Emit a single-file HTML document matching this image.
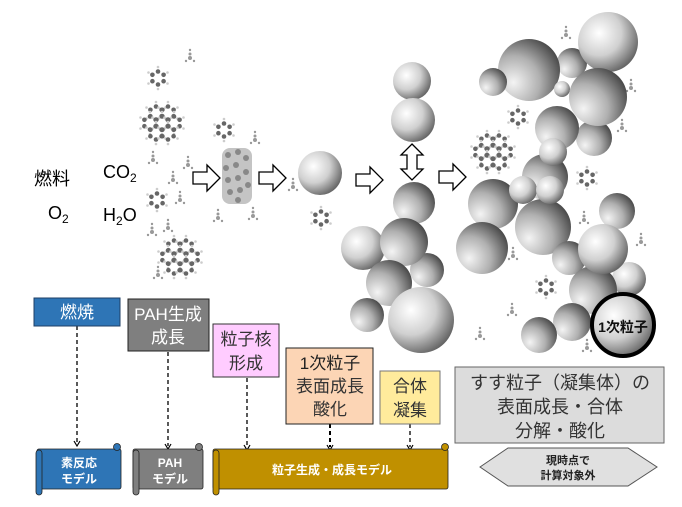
<!DOCTYPE html>
<html><head><meta charset="utf-8">
<style>
html,body{margin:0;padding:0;background:#fff;}
body{width:682px;height:507px;overflow:hidden;position:relative;font-family:"Liberation Sans","Noto Sans CJK JP",sans-serif;}
svg{position:absolute;left:0;top:0;}
</style></head><body>
<svg width="682" height="507" viewBox="0 0 682 507" xmlns="http://www.w3.org/2000/svg" font-family="Liberation Sans, Noto Sans CJK JP, sans-serif">
<defs>
<radialGradient id="sp" cx="0.35" cy="0.35" r="0.75">
<stop offset="0" stop-color="#ffffff"/><stop offset="0.5" stop-color="#d0d0d0"/><stop offset="1" stop-color="#555"/>
</radialGradient>
<radialGradient id="sp2" cx="0.25" cy="0.7" r="0.85">
<stop offset="0" stop-color="#f4f4f4"/><stop offset="0.5" stop-color="#b0b0b0"/><stop offset="1" stop-color="#404040"/>
</radialGradient>
<g id="bz">
<g fill="#ccc"><circle cx="0" cy="-11" r="1.3"/><circle cx="9.5" cy="-5.5" r="1.3"/><circle cx="9.5" cy="5.5" r="1.3"/><circle cx="0" cy="11" r="1.3"/><circle cx="-9.5" cy="5.5" r="1.3"/><circle cx="-9.5" cy="-5.5" r="1.3"/></g>
<g fill="#666"><circle cx="0" cy="-6.5" r="2.3"/><circle cx="5.6" cy="-3.2" r="2.3"/><circle cx="5.6" cy="3.2" r="2.3"/><circle cx="0" cy="6.5" r="2.3"/><circle cx="-5.6" cy="3.2" r="2.3"/><circle cx="-5.6" cy="-3.2" r="2.3"/></g>
</g>
<g id="pah">
<use href="#bz" x="-6" y="-10"/><use href="#bz" x="6" y="-10"/><use href="#bz" x="-12" y="0"/><use href="#bz" x="0" y="0"/><use href="#bz" x="12" y="0"/><use href="#bz" x="-6" y="10"/><use href="#bz" x="6" y="10"/>
</g>
<g id="me" fill="#999"><circle cx="0" cy="-8" r="1.2"/><circle cx="0" cy="-4" r="1.5"/><circle cx="0" cy="0" r="2"/><circle cx="-4" cy="3" r="1.2"/><circle cx="4" cy="3" r="1.2"/></g>
<path id="ar" d="M0,-6 H14 V-13 L27,0 L14,13 V6 H0 Z" fill="#fff" stroke="#000" stroke-width="1.3"/>
</defs>

<text x="34" y="185" font-size="18">燃料</text>
<text x="48" y="219" font-size="18">O<tspan font-size="12" dy="4">2</tspan></text>
<text x="103" y="178" font-size="18">CO<tspan font-size="12" dy="4">2</tspan></text>
<text x="103" y="221" font-size="18">H<tspan font-size="12" dy="4">2</tspan><tspan dy="-4">O</tspan></text>

<use href="#bz" x="158" y="78"/>
<use href="#pah" x="162" y="123"/>
<use href="#bz" x="157" y="200"/>
<use href="#pah" x="180" y="257"/>
<use href="#bz" x="224" y="130"/>
<use href="#bz" x="321" y="218"/>
<use href="#bz" x="518" y="117"/>
<use href="#pah" x="493" y="152"/>
<use href="#bz" x="587" y="178"/>
<use href="#bz" x="546" y="287"/>
<use href="#me" x="190" y="58"/><use href="#me" x="153" y="160"/><use href="#me" x="173" y="180"/><use href="#me" x="188" y="165"/>
<use href="#me" x="180" y="200"/><use href="#me" x="168" y="228"/><use href="#me" x="152" y="232"/><use href="#me" x="158" y="275"/>
<use href="#me" x="255" y="140"/><use href="#me" x="218" y="218"/><use href="#me" x="253" y="216"/><use href="#me" x="293" y="187"/>
<use href="#me" x="566" y="35"/><use href="#me" x="631" y="88"/><use href="#me" x="622" y="128"/><use href="#me" x="584" y="220"/>
<use href="#me" x="641" y="242"/><use href="#me" x="513" y="256"/><use href="#me" x="512" y="312"/><use href="#me" x="587" y="348"/><use href="#me" x="480" y="336"/>
<g fill="#888">
<rect x="222" y="148" width="30" height="56" rx="8" fill="#c4c4c4"/>
<circle cx="228" cy="155" r="3"/><circle cx="238" cy="152" r="3"/><circle cx="246" cy="158" r="3"/><circle cx="226" cy="168" r="3"/><circle cx="236" cy="165" r="3"/><circle cx="246" cy="172" r="3"/><circle cx="228" cy="180" r="3"/><circle cx="238" cy="178" r="3"/><circle cx="248" cy="185" r="3"/><circle cx="230" cy="192" r="3"/><circle cx="240" cy="190" r="3"/><circle cx="238" cy="200" r="3"/>
</g>

<use href="#ar" x="193" y="178"/>
<use href="#ar" x="259" y="178"/>
<use href="#ar" x="356" y="180"/>
<use href="#ar" x="439" y="177"/>
<path d="M412,144 L423,155 H417 V169 H423 L412,180 L401,169 H407 V155 H401 Z" fill="#fff" stroke="#000" stroke-width="1.3"/>

<g fill="url(#sp)">
<circle cx="320" cy="173" r="22"/>
<circle cx="412" cy="81" r="19"/>
<circle cx="413" cy="120" r="22"/>
<circle cx="414" cy="203" r="21" fill="url(#sp2)"/>
<circle cx="363" cy="248" r="22"/>
<circle cx="427" cy="270" r="17" fill="url(#sp2)"/>
<circle cx="404" cy="242" r="24" fill="url(#sp2)"/>
<circle cx="389" cy="283" r="23" fill="url(#sp2)"/>
<circle cx="367" cy="315" r="17" fill="url(#sp2)"/>
<circle cx="421" cy="320" r="33"/>
<circle cx="572" cy="63" r="15" fill="url(#sp2)"/>
<circle cx="529" cy="70" r="31" fill="url(#sp2)"/>
<circle cx="493" cy="82" r="14" fill="url(#sp2)"/>
<circle cx="608" cy="42" r="30"/>
<circle cx="562" cy="89" r="8"/>
<circle cx="594" cy="138" r="18" fill="url(#sp2)"/>
<circle cx="557" cy="128" r="22" fill="url(#sp2)"/>
<circle cx="598" cy="97" r="29" fill="url(#sp2)"/>
<circle cx="545" cy="177" r="23" fill="url(#sp2)"/>
<circle cx="553" cy="152" r="14"/>
<circle cx="493" cy="204" r="25" fill="url(#sp2)"/>
<circle cx="543" cy="227" r="28" fill="url(#sp2)"/>
<circle cx="523" cy="190" r="14"/>
<circle cx="550" cy="190" r="14"/>
<circle cx="482" cy="248" r="26" fill="url(#sp2)"/>
<circle cx="617" cy="211" r="18" fill="url(#sp2)"/>
<circle cx="569" cy="258" r="17" fill="url(#sp2)"/>
<circle cx="629" cy="279" r="17"/>
<circle cx="593" cy="290" r="24" fill="url(#sp2)"/>
<circle cx="603" cy="249" r="25"/>
<circle cx="572" cy="322" r="19" fill="url(#sp2)"/>
<circle cx="539" cy="335" r="18" fill="url(#sp2)"/>
<circle cx="623" cy="325" r="31" stroke="#000" stroke-width="4"/>
</g>
<text x="623" y="332" font-size="14" font-weight="bold" text-anchor="middle" fill="#111">1次粒子</text>

<g stroke="#000" stroke-width="1.3" stroke-dasharray="4,3" fill="none">
<line x1="77" y1="326" x2="77" y2="443"/>
<line x1="168" y1="352" x2="168" y2="446"/>
<line x1="247" y1="378" x2="247" y2="447"/>
<line x1="330" y1="424" x2="330" y2="447" stroke-width="2"/>
<line x1="410" y1="424" x2="410" y2="447"/>
</g>
<g stroke="#000" stroke-width="1.2" fill="none">
<path d="M74,441 L77,446 L80,441"/><path d="M165,444 L168,449 L171,444"/><path d="M244,445 L247,450 L250,445"/><path d="M327,445 L330,450 L333,445"/><path d="M407,445 L410,450 L413,445"/>
</g>

<rect x="34" y="298" width="86" height="28" fill="#2e75b6" stroke="#1f3f66" stroke-width="1"/>
<text x="77" y="318" font-size="17" fill="#fff" text-anchor="middle">燃焼</text>
<rect x="128" y="299" width="81" height="52" fill="#7f7f7f" stroke="#222" stroke-width="1"/>
<text x="168" y="320" font-size="17" fill="#fff" text-anchor="middle">PAH生成</text>
<text x="168" y="343" font-size="17" fill="#fff" text-anchor="middle">成長</text>
<rect x="213" y="324" width="66" height="53" fill="#ffccff" stroke="#333" stroke-width="1"/>
<text x="246" y="345" font-size="17" fill="#333" text-anchor="middle">粒子核</text>
<text x="246" y="369" font-size="17" fill="#333" text-anchor="middle">形成</text>
<rect x="286" y="348" width="87" height="76" fill="#fcd5b5" stroke="#222" stroke-width="1"/>
<text x="330" y="369" font-size="17" fill="#222" text-anchor="middle">1次粒子</text>
<text x="330" y="392" font-size="17" fill="#333" text-anchor="middle">表面成長</text>
<text x="330" y="415" font-size="17" fill="#333" text-anchor="middle">酸化</text>
<rect x="380" y="371" width="60" height="53" fill="#ffeb9c" stroke="#777" stroke-width="1"/>
<text x="410" y="392" font-size="17" fill="#333" text-anchor="middle">合体</text>
<text x="410" y="416" font-size="17" fill="#333" text-anchor="middle">凝集</text>
<rect x="455" y="367" width="209" height="76" fill="#dcdcdc" stroke="#666" stroke-width="1"/>
<text x="560" y="389" font-size="18" fill="#333" text-anchor="middle">すす粒子（凝集体）の</text>
<text x="560" y="413" font-size="18" fill="#333" text-anchor="middle">表面成長・合体</text>
<text x="560" y="437" font-size="18" fill="#333" text-anchor="middle">分解・酸化</text>
<path d="M480,467 L508,448 H628 L657,467 L628,486 H508 Z" fill="#e0e0e0" stroke="#555" stroke-width="1"/>
<text x="568" y="464" font-size="11" font-weight="bold" fill="#222" text-anchor="middle">現時点で</text>
<text x="568" y="479" font-size="11" font-weight="bold" fill="#222" text-anchor="middle">計算対象外</text>

<g stroke="#222" stroke-width="0.8">
<rect x="37" y="449" width="84" height="40" rx="2" fill="#2e75b6"/>
<rect x="36" y="450" width="6" height="45" rx="3" fill="#2e75b6"/>
<circle cx="117" cy="447" r="3.5" fill="#2e75b6"/>
<rect x="133" y="449" width="70" height="40" rx="2" fill="#7f7f7f"/>
<rect x="133" y="450" width="6" height="45" rx="3" fill="#7f7f7f"/>
<circle cx="199" cy="447" r="3.5" fill="#7f7f7f"/>
<rect x="213" y="449" width="235" height="40" rx="2" fill="#c09000"/>
<rect x="213" y="450" width="6" height="45" rx="3" fill="#c09000"/>
<circle cx="445" cy="447" r="3.5" fill="#c09000"/>
</g>
<text x="79" y="467" font-size="12" font-weight="bold" fill="#fff" text-anchor="middle">素反応</text>
<text x="79" y="483" font-size="12" font-weight="bold" fill="#fff" text-anchor="middle">モデル</text>
<text x="170" y="467" font-size="12" font-weight="bold" fill="#fff" text-anchor="middle">PAH</text>
<text x="170" y="483" font-size="12" font-weight="bold" fill="#fff" text-anchor="middle">モデル</text>
<text x="332" y="474" font-size="12" font-weight="bold" fill="#fff" text-anchor="middle">粒子生成・成長モデル</text>
</svg>
</body></html>
